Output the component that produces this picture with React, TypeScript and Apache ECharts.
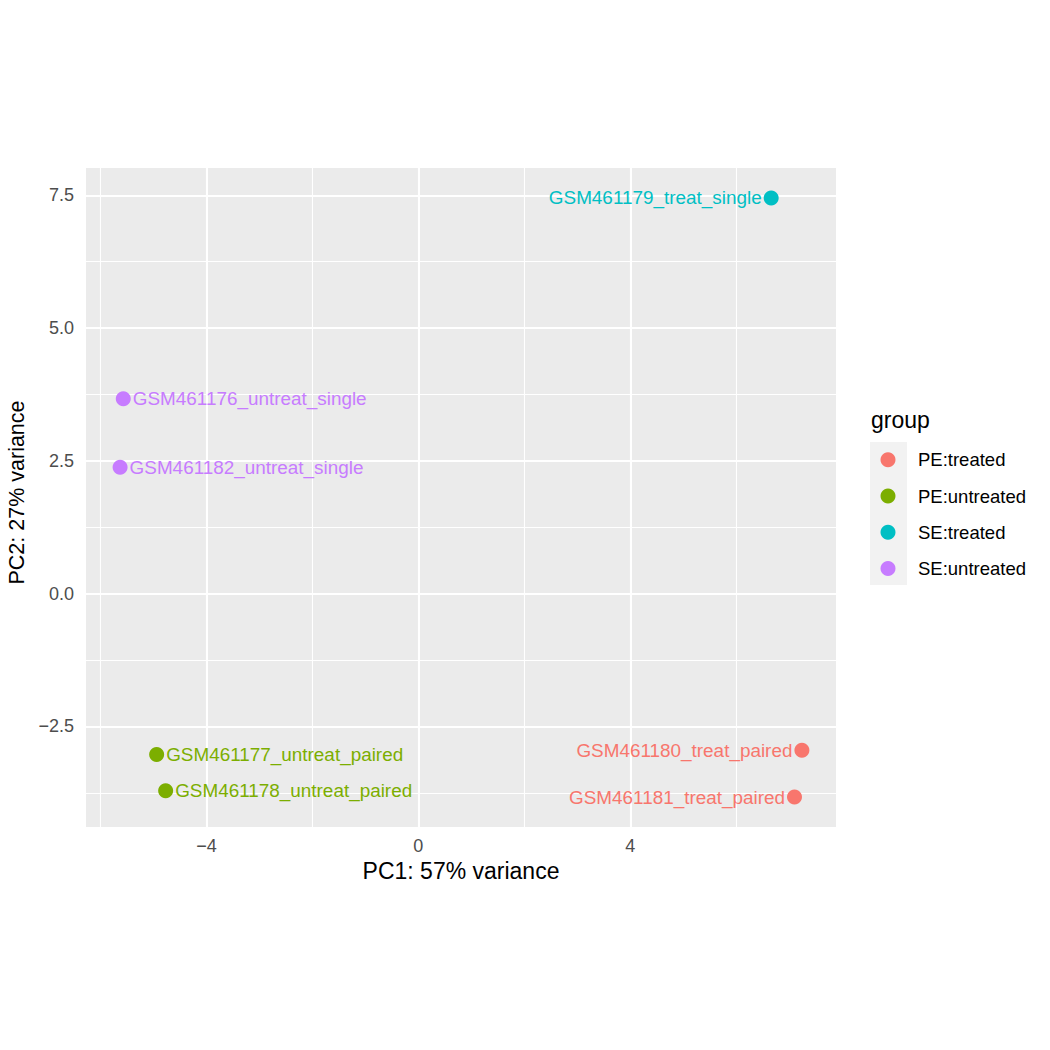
import React, { useEffect, useRef } from "react";
import * as echarts from "echarts";

const samples = [
  "GSM461176_untreat_single",
  "GSM461177_untreat_paired",
  "GSM461178_untreat_paired",
  "GSM461179_treat_single",
  "GSM461180_treat_paired",
  "GSM461181_treat_paired",
  "GSM461182_untreat_single",
];
const pc1 = [-5.57, -4.94, -4.77, 6.66, 7.24, 7.1, -5.63];
const pc2 = [3.67, -3.03, -3.71, 7.45, -2.95, -3.83, 2.38];
const sampleGroups = [
  "SE:untreated",
  "PE:untreated",
  "PE:untreated",
  "SE:treated",
  "PE:treated",
  "PE:treated",
  "SE:untreated",
];
const groupNames = ["PE:treated", "PE:untreated", "SE:treated", "SE:untreated"];
const groupColors = ["#F8766D", "#7CAE00", "#00BFC4", "#C77CFF"];
const xMajor = [-4, 0, 4];
const xMinor = [-6, -2, 2, 6];
const yMajor = [-2.5, 0, 2.5, 5, 7.5];
const yMinor = [-3.75, -1.25, 1.25, 3.75, 6.25];

const FONT = "'Liberation Sans', Arial, Helvetica, sans-serif";

function expand(vals: number[]) {
  const lo = Math.min(...vals);
  const hi = Math.max(...vals);
  const pad = (hi - lo) * 0.05;
  return [lo - pad, hi + pad];
}
const fmtMinus = (s: string) => s.replace("-", "\u2212");

export default function App() {
  const ref = useRef<HTMLDivElement>(null);
  useEffect(() => {
    if (!ref.current) return;
    const chart = echarts.init(ref.current, null, { renderer: "svg" });
    const [xMin, xMax] = expand(pc1);
    const [yMin, yMax] = expand(pc2);

    const gridLines: any[] = [];
    xMinor.forEach((v) => gridLines.push({ xAxis: v, lineStyle: { width: 1.1 } }));
    yMinor.forEach((v) => gridLines.push({ yAxis: v, lineStyle: { width: 1.1 } }));
    xMajor.forEach((v) => gridLines.push({ xAxis: v, lineStyle: { width: 2.1 } }));
    yMajor.forEach((v) => gridLines.push({ yAxis: v, lineStyle: { width: 2.1 } }));

    const dataSeries = groupNames.map((g, gi) => ({
      type: "scatter",
      name: g,
      z: 6,
      symbol: "circle",
      symbolSize: 15,
      itemStyle: { color: groupColors[gi], opacity: 1 },
      label: {
        show: true,
        formatter: "{b}",
        color: groupColors[gi],
        fontSize: 18.9,
        fontFamily: FONT,
        distance: 2,
      },
      emphasis: { disabled: true },
      data: samples
        .map((s, i) => ({ i, s }))
        .filter(({ i }) => sampleGroups[i] === g)
        .map(({ i, s }) => ({
          name: s,
          value: [pc1[i], pc2[i]],
          label: { position: pc1[i] > 0 ? "left" : "right" },
        })),
    }));

    const option: any = {
      animation: false,
      grid: {
        left: 86,
        top: 168,
        width: 750,
        height: 659,
        show: true,
        backgroundColor: "#EBEBEB",
        borderWidth: 0,
        containLabel: false,
        outerBoundsMode: "none",
      },
      xAxis: {
        type: "value",
        min: xMin,
        max: xMax,
        name: "PC1: 57% variance",
        nameLocation: "middle",
        nameGap: 28,
        nameTextStyle: { color: "#000000", fontSize: 23, fontFamily: FONT },
        axisLine: { show: false },
        splitLine: { show: false },
        axisTick: {
          show: true,
          customValues: xMajor,
          length: 5,
          lineStyle: { color: "#333333", width: 2 },
        },
        axisLabel: {
          customValues: xMajor,
          color: "#4D4D4D",
          fontSize: 18,
          fontFamily: FONT,
          margin: 10,
          formatter: (v: number) => fmtMinus(String(v)),
        },
      },
      yAxis: {
        type: "value",
        min: yMin,
        max: yMax,
        name: "PC2: 27% variance",
        nameLocation: "middle",
        nameGap: 44,
        nameTextStyle: {
          color: "#000000",
          fontSize: 21.5,
          fontFamily: FONT,
          padding: [0, 0, 0, 10],
        },
        axisLine: { show: false },
        splitLine: { show: false },
        axisTick: {
          show: true,
          customValues: yMajor,
          length: 5,
          lineStyle: { color: "#333333", width: 2 },
        },
        axisLabel: {
          customValues: yMajor,
          color: "#4D4D4D",
          fontSize: 18,
          fontFamily: FONT,
          margin: 12,
          formatter: (v: number) => fmtMinus(v.toFixed(1)),
        },
      },
      legend: {
        data: groupNames,
        orient: "vertical",
        left: 880.5,
        top: 449.8,
        padding: 0,
        itemWidth: 15,
        itemHeight: 15,
        itemGap: 16.2,
        icon: "circle",
        selectedMode: false,
        textStyle: {
          color: "#000000",
          fontSize: 18.5,
          fontFamily: FONT,
          lineHeight: 20,
          padding: [0, 0, 0, 17.5],
        },
      },
      graphic: [
        {
          type: "rect",
          left: 870,
          top: 442,
          shape: { width: 37, height: 143 },
          style: { fill: "#F2F2F2" },
          z: -1,
          silent: true,
        },
        {
          type: "text",
          left: 871,
          top: 408,
          style: { text: "group", fill: "#000000", fontSize: 23, fontFamily: FONT },
          silent: true,
        },
      ],
      series: [
        {
          type: "scatter",
          name: "grid",
          z: 1,
          data: [],
          silent: true,
          markLine: {
            z: 1,
            silent: true,
            symbol: ["none", "none"],
            label: { show: false },
            lineStyle: { color: "#FFFFFF", type: "solid" },
            emphasis: { disabled: true },
            data: gridLines,
          },
        },
        ...dataSeries,
      ],
    };
    chart.setOption(option);
    return () => chart.dispose();
  }, []);
  return (
    <div
      ref={ref}
      style={{ position: "absolute", left: 0, top: 0, width: 1050, height: 1050, background: "#FFFFFF" }}
    />
  );
}
